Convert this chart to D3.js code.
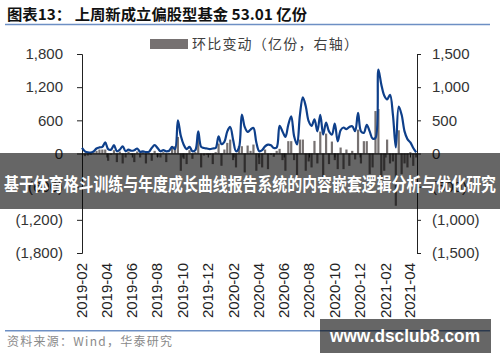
<!DOCTYPE html>
<html>
<head>
<meta charset="utf-8">
<script src="https://cdn.jsdelivr.net/npm/d3@7"></script>
<style>
  body { margin: 0; background: #fff; }
  svg { display: block; }
</style>
</head>
<body>
<script>
// Weekly data, first week 2019-02-01, one value per week
const startWeek = "2019-02-01";

// New fund shares (亿份, left axis)
const shareValues = [
  100, 40, 20, 15, 40, 90, 110, 120, 200, 80,
  70, 150, 40, 70, 130, 40, 70, 50, 60, 90,
  30, 40, 25, 30, 100, 150, 100, 40, 60, 40,
  50, 120, 80, 600, 320, 160, 80, 120, 40, 60,
  400, 120, 100, 90, 80, 90, 100, 310, 170, 210,
  400, 480, 250, 40, 100, 705, 480, 390, 433, 463,
  200, 40, 60, 130, 160, 150, 100, 110, 500, 400,
  300, 520, 674, 313, 163, 700, 1017, 855, 584, 500,
  620, 400, 700, 343, 560, 400, 343, 540, 220, 420,
  470, 440, 480, 494, 403, 734, 400, 373, 520, 400,
  270, 280, 1517, 1250, 1050, 980, 1060, 700, 110, 850,
  700, 400, 260, 200, 100, 20
];

// Week-on-week change (亿份, right axis)
const changeValues = [
  0, -40, -30, -20, 20, 40, 60, 60, 60, -110,
  -20, 50, -130, 30, -150, -60, 30, -20, -130, 30,
  -60, 20, -150, 10, -110, 40, -50, -60, 20, -130,
  10, 110, 110, 250, -261, -80, -160, 50, -80, 20,
  260, -210, -30, -20, -20, -160, 20, 150, -185, 60,
  160, 210, -100, -210, 110, 110, -286, 120, 40, 135,
  -260, -160, -210, 60, -236, -20, -50, 40, 70, -100,
  -260, 186, 186, -100, -336, 210, 210, -260, -120, -210,
  190, -150, 330, -361, 300, -160, 180, -100, -236, 90,
  -236, 60, -186, 40, -90, 360, -150, 186, 186, -311,
  -210, 640, 670, -386, -260, 210, -150, -120, -788, 350,
  -311, -150, -210, 20, -186, -60
];

// Axis ticks
const leftTicks = [-1800, -1200, -600, 0, 600, 1200, 1800];
const rightTicks = [-1500, -1000, -500, 0, 500, 1000, 1500];
const monthLabels = ["2019-02", "2019-04", "2019-06", "2019-08", "2019-10", "2019-12",
  "2020-02", "2020-04", "2020-06", "2020-08", "2020-10", "2020-12", "2021-02", "2021-04"];

// Texts
const titleText = "图表13：  上周新成立偏股型基金 53.01 亿份";
const legendText = "环比变动（亿份，右轴）";
const sourceText = "资料来源：Wind，华泰研究";
const bannerText = "基于体育格斗训练与年度成长曲线报告系统的内容嵌套逻辑分析与优化研究";
const siteText = "www.dsclub8.com";

const width = 500;
const height = 362;

const parseDay = d3.timeParse("%Y-%m-%d");
const parseMonth = d3.timeParse("%Y-%m");
const firstWeek = parseDay(startWeek);
const weeks = shareValues.map((v, i) => d3.timeDay.offset(firstWeek, 7 * i));

const svg = d3.select("body").append("svg")
  .attr("width", width)
  .attr("height", height)
  .attr("viewBox", [0, 0, width, height]);

// Scales
const xScale = d3.scaleTime()
  .domain([parseDay("2019-02-01"), parseDay("2021-04-18")])
  .range([82, 417]);
const yLeft = d3.scaleLinear().domain([-1800, 1800]).range([253, 54]);
const yRight = d3.scaleLinear().domain([-1500, 1500]).range([253, 54]);

const fmt = d3.format(",");
const paren = d => d < 0 ? `(${fmt(-d)})` : fmt(d);

// Title and top rule
svg.append("text")
  .attr("x", 7).attr("y", 20)
  .attr("textLength", 300).attr("lengthAdjust", "spacingAndGlyphs")
  .style("font", "bold 15px 'Noto Sans CJK SC', 'Liberation Sans', sans-serif")
  .attr("fill", "#111")
  .text(titleText);

svg.append("line")
  .attr("x1", 5).attr("x2", 490).attr("y1", 24.5).attr("y2", 24.5)
  .attr("stroke", "#6d8fc4").attr("stroke-width", 1.5);

// Legend
svg.append("rect")
  .attr("x", 150).attr("y", 39).attr("width", 38).attr("height", 10)
  .attr("fill", "#767171");
svg.append("text")
  .attr("x", 192).attr("y", 49)
  .attr("textLength", 166).attr("lengthAdjust", "spacing")
  .style("font", "14px 'Noto Sans CJK SC', sans-serif")
  .attr("fill", "#404040")
  .text(legendText);

// Bars (right axis)
const barW = 2.2;
svg.append("g")
  .selectAll("rect")
  .data(changeValues)
  .join("rect")
  .attr("x", (d, i) => xScale(weeks[i]) - barW / 2)
  .attr("y", d => yRight(Math.max(0, d)))
  .attr("width", barW)
  .attr("height", d => Math.abs(yRight(d) - yRight(0)))
  .attr("fill", "#767171");

// Left axis
const leftAxis = svg.append("g")
  .attr("transform", "translate(82,0)")
  .call(d3.axisLeft(yLeft).tickValues(leftTicks).tickFormat(paren).tickSize(5).tickPadding(14));

// Right axis
const rightAxis = svg.append("g")
  .attr("transform", "translate(417,0)")
  .call(d3.axisRight(yRight).tickValues(rightTicks).tickFormat(paren).tickSize(4).tickPadding(11));

[leftAxis, rightAxis].forEach(g => {
  g.select(".domain").attr("stroke", "#222");
  g.selectAll(".tick line").attr("stroke", "#222");
  g.selectAll(".tick text")
    .style("font", "15px 'Liberation Sans', Arial, sans-serif")
    .attr("fill", "#333");
});

// X axis along zero line
const monthDates = monthLabels.map(parseMonth);
const xAxis = svg.append("g")
  .attr("transform", `translate(0,${yLeft(0)})`)
  .call(d3.axisBottom(xScale).tickValues(monthDates).tickFormat("").tickSize(4).tickSizeOuter(0));
xAxis.select(".domain").attr("stroke", "#222");
xAxis.selectAll(".tick line").attr("stroke", "#222");

// Month labels at bottom, rotated
svg.append("g")
  .selectAll("text")
  .data(monthDates)
  .join("text")
  .attr("transform", d => `translate(${xScale(d)},263) rotate(-90)`)
  .attr("dy", "0.35em")
  .attr("text-anchor", "end")
  .style("font", "15px 'Liberation Sans', Arial, sans-serif")
  .attr("fill", "#222")
  .text((d, i) => monthLabels[i]);

// Share line (left axis)
const line = d3.line()
  .x((d, i) => xScale(weeks[i]))
  .y(d => yLeft(d))
  .curve(d3.curveCatmullRom.alpha(0.5));

svg.append("path")
  .datum(shareValues)
  .attr("d", line)
  .attr("fill", "none")
  .attr("stroke", "#0e3f8a")
  .attr("stroke-width", 2.2)
  .attr("stroke-linejoin", "round");

// Bottom rule and source
svg.append("line")
  .attr("x1", 5).attr("x2", 490).attr("y1", 330.7).attr("y2", 330.7)
  .attr("stroke", "#6d8fc4").attr("stroke-width", 1.5);

svg.append("text")
  .attr("x", 7).attr("y", 346)
  .attr("textLength", 165).attr("lengthAdjust", "spacing")
  .style("font", "12px 'Noto Sans CJK SC', 'Liberation Sans', sans-serif")
  .attr("fill", "#8a8a8a")
  .text(sourceText);

// Overlay banners
svg.append("rect")
  .attr("x", 0).attr("y", 153).attr("width", width).attr("height", 56)
  .attr("fill", "rgba(0,0,0,0.6)");
svg.append("text")
  .attr("x", 4).attr("y", 191)
  .attr("textLength", 492).attr("lengthAdjust", "spacingAndGlyphs")
  .style("font", "bold 18px 'Noto Sans CJK SC', sans-serif")
  .attr("fill", "#fff")
  .text(bannerText);

svg.append("rect")
  .attr("x", 320).attr("y", 319).attr("width", 171).attr("height", 34)
  .attr("fill", "rgba(0,0,0,0.6)");
svg.append("text")
  .attr("x", 330).attr("y", 342)
  .attr("textLength", 150).attr("lengthAdjust", "spacingAndGlyphs")
  .style("font", "bold 18px 'Liberation Sans', Arial, sans-serif")
  .attr("fill", "#fff")
  .text(siteText);
</script>
</body>
</html>
